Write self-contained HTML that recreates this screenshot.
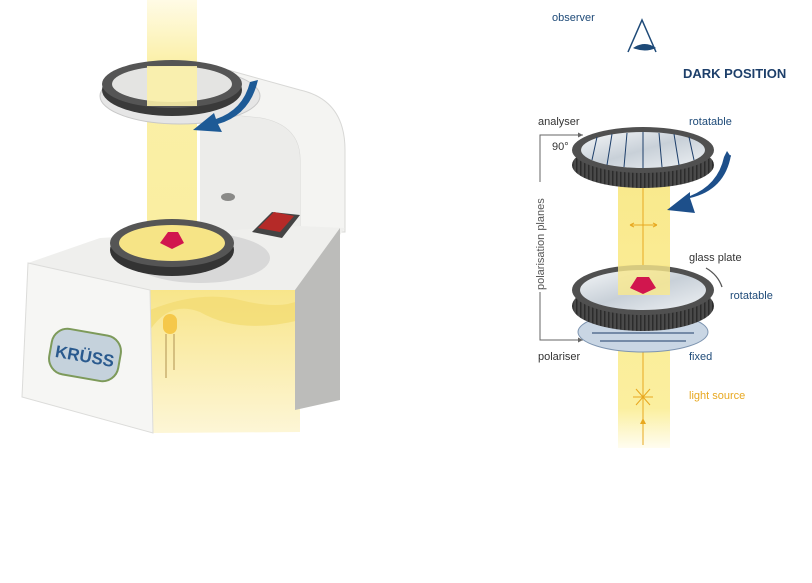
<!DOCTYPE html>
<html><head><meta charset="utf-8"><style>
html,body{margin:0;padding:0;background:#fff;}
svg{display:block;font-family:"Liberation Sans",sans-serif;}
</style></head><body>
<svg width="812" height="583" viewBox="0 0 812 583" xmlns="http://www.w3.org/2000/svg">
<defs>
<linearGradient id="beamL" x1="0" y1="0" x2="0" y2="1">
<stop offset="0" stop-color="#fffbe6"/><stop offset="0.25" stop-color="#fbf0a8"/><stop offset="1" stop-color="#faeea0"/></linearGradient>
<linearGradient id="beamR" x1="0" y1="0" x2="0" y2="1">
<stop offset="0" stop-color="#f9e98c"/><stop offset="0.85" stop-color="#fbef9f"/><stop offset="1" stop-color="#fffdf0"/></linearGradient>
<linearGradient id="glass" x1="0" y1="0" x2="1" y2="1">
<stop offset="0" stop-color="#f4f6f8"/><stop offset="0.5" stop-color="#c8d0d8"/><stop offset="1" stop-color="#eef1f4"/></linearGradient>
<linearGradient id="inside" x1="0" y1="0" x2="0" y2="1">
<stop offset="0" stop-color="#f8e58a"/><stop offset="1" stop-color="#fdf6d6"/></linearGradient>
<pattern id="knurl" width="4" height="20" patternUnits="userSpaceOnUse"><rect width="4" height="20" fill="#4a4a4a"/><rect width="1.5" height="20" fill="#2c2c2c"/></pattern>
</defs>

<!-- ===== LEFT DEVICE ===== -->
<!-- arch back -->
<path d="M228,70 L300,90 Q345,100 345,150 L345,232 L300,232 L300,160 Q300,125 260,118 L200,112 Z" fill="#f4f4f2" stroke="#d8d8d6"/>
<path d="M300,232 L300,160 Q300,125 260,118 L200,112 L200,232 Z" fill="#ececea"/>
<!-- beam top -->
<rect x="147" y="0" width="50" height="250" fill="url(#beamL)"/>
<!-- upper plate & ring -->
<ellipse cx="180" cy="96" rx="80" ry="28" fill="#e6e6e6" stroke="#c8c8c8"/>
<ellipse cx="172" cy="90" rx="70" ry="26" fill="#3a3a3a"/>
<ellipse cx="172" cy="84" rx="70" ry="24" fill="#555"/>
<ellipse cx="172" cy="84" rx="60" ry="18" fill="#e4e4e2"/>
<rect x="147" y="66" width="50" height="40" fill="#fbf0a8" opacity="0.9"/>
<!-- blue arrow left -->
<path d="M258,80 Q250,115 218,124 L222,132 L193,130 L214,113 L216,119 Q243,110 250,82 Z" fill="#1d5a96"/>
<!-- base top -->
<polygon points="28,263 100,238 300,226 345,228 300,290 150,290" fill="#efefed"/>
<!-- yellow cutaway -->
<polygon points="150,290 300,290 300,432 153,433" fill="url(#inside)"/>
<path d="M150,310 Q200,290 240,300 Q280,310 300,300 L300,320 Q240,335 200,312 Q170,300 150,330 Z" fill="#f3dc74" opacity="0.8"/>
<polygon points="295,290 340,228 340,400 295,410" fill="#bcbcba"/>
<!-- front face -->
<polygon points="28,263 150,290 153,433 22,397" fill="#f6f6f4" stroke="#dcdcda"/>
<!-- lower ring -->
<ellipse cx="200" cy="258" rx="70" ry="25" fill="#d8d8d8"/>
<ellipse cx="172" cy="250" rx="62" ry="26" fill="#333"/>
<ellipse cx="172" cy="243" rx="62" ry="24" fill="#555"/>
<ellipse cx="172" cy="243" rx="53" ry="18" fill="#f6e486"/>
<path d="M160,243 L168,232 L178,232 L184,243 L172,249 Z" fill="#d1164e"/>
<!-- button & switch -->
<ellipse cx="228" cy="197" rx="7" ry="4" fill="#8a8a88"/>
<polygon points="252,232 272,212 300,215 282,238" fill="#444"/>
<polygon points="258,228 274,212 294,216 280,232" fill="#b52a28"/>
<!-- KRUSS badge -->
<g transform="rotate(10 85 355)"><rect x="50" y="332" width="70" height="46" rx="16" fill="#c5d2dc" stroke="#7d9a5a" stroke-width="2"/>
<text x="85" y="362" text-anchor="middle" font-size="17" font-weight="bold" fill="#2a5a8e">KRÜSS</text></g>
<!-- LED -->
<rect x="163" y="314" width="14" height="20" rx="7" fill="#f5c84a"/>
<line x1="166" y1="334" x2="166" y2="378" stroke="#c9b070" stroke-width="1.5"/>
<line x1="174" y1="334" x2="174" y2="370" stroke="#c9b070" stroke-width="1.5"/>

<!-- ===== RIGHT DIAGRAM ===== -->
<text x="552" y="21" font-size="11" fill="#1e4a78">observer</text>
<path d="M628,52 L642,20 L656,52" fill="none" stroke="#1e4a78" stroke-width="1.5"/>
<path d="M633,48 Q645,40 656,48 Q645,53 633,48 Z" fill="#1e4a78"/>
<text x="683" y="78" font-size="13" font-weight="bold" fill="#1d3f6a">DARK POSITION</text>
<text x="538" y="125" font-size="11" fill="#333">analyser</text>
<text x="689" y="125" font-size="11" fill="#1e4a78">rotatable</text>
<text x="552" y="150" font-size="11" fill="#333">90°</text>
<!-- bracket -->
<path d="M583,135 L540,135 L540,182 M540,292 L540,340 L583,340" fill="none" stroke="#666" stroke-width="1"/>
<path d="M583,135 l-5,-2.5 v5 Z M583,340 l-5,-2.5 v5 Z" fill="#666"/>
<text transform="translate(544,290) rotate(-90)" font-size="11" fill="#555">polarisation planes</text>
<!-- beam -->
<rect x="618" y="180" width="52" height="268" fill="url(#beamR)"/>
<line x1="643" y1="175" x2="643" y2="445" stroke="#e8a820" stroke-width="1"/>
<path d="M630,225 H657 M630,225 l4,-2 M630,225 l4,2 M657,225 l-4,-2 M657,225 l-4,2" stroke="#e8a820" stroke-width="1" fill="none"/>
<!-- analyser -->
<ellipse cx="643" cy="165" rx="71" ry="23" fill="url(#knurl)"/>
<ellipse cx="643" cy="150" rx="71" ry="23" fill="#505050"/>
<ellipse cx="643" cy="150" rx="62" ry="18" fill="url(#glass)"/>
<g stroke="#1e3f6a" stroke-width="1">
<line x1="597" y1="137" x2="592" y2="160"/><line x1="612" y1="134" x2="607" y2="165"/>
<line x1="627" y1="133" x2="624" y2="167"/><line x1="643" y1="132" x2="643" y2="168"/>
<line x1="659" y1="133" x2="662" y2="167"/><line x1="674" y1="134" x2="679" y2="165"/>
<line x1="689" y1="137" x2="694" y2="160"/></g>
<!-- blue arrow right -->
<path d="M731,155 Q725,190 690,198 L695,213 L667,210 L690,192 L690,196 Q718,185 724,157 Z" fill="#1d4f8a"/>
<path d="M724,157 l3,-6 l4,6 Z" fill="#1d4f8a"/>
<!-- glass plate ring -->
<text x="689" y="261" font-size="11" fill="#333">glass plate</text>
<path d="M706,268 Q718,275 722,287" fill="none" stroke="#555" stroke-width="1.3"/>
<text x="730" y="299" font-size="11" fill="#1e4a78">rotatable</text>
<ellipse cx="643" cy="332" rx="65" ry="20" fill="#c9d6e4" stroke="#7d94b0"/>
<g stroke="#1e3f6a"><line x1="600" y1="325" x2="686" y2="325"/><line x1="592" y1="333" x2="694" y2="333"/><line x1="600" y1="341" x2="686" y2="341"/></g>
<ellipse cx="643" cy="306" rx="71" ry="25" fill="url(#knurl)"/>
<ellipse cx="643" cy="290" rx="71" ry="25" fill="#505050"/>
<ellipse cx="643" cy="290" rx="63" ry="20" fill="url(#glass)"/>
<rect x="618" y="265" width="52" height="30" fill="#f9e98c" opacity="0.8"/>
<path d="M630,288 L637,277 L649,277 L656,288 L643,294 Z" fill="#d1164e"/>
<text x="538" y="360" font-size="11" fill="#333">polariser</text>
<text x="689" y="360" font-size="11" fill="#1e4a78">fixed</text>
<!-- light source -->
<g stroke="#e8a820" stroke-width="1"><line x1="633" y1="397" x2="653" y2="397"/><line x1="636" y1="389" x2="650" y2="405"/><line x1="650" y1="389" x2="636" y2="405"/></g>
<text x="689" y="399" font-size="11" fill="#e8a820">light source</text>
<path d="M643,418 l-3,6 h6 Z" fill="#e8a820"/>
</svg>
</body></html>
